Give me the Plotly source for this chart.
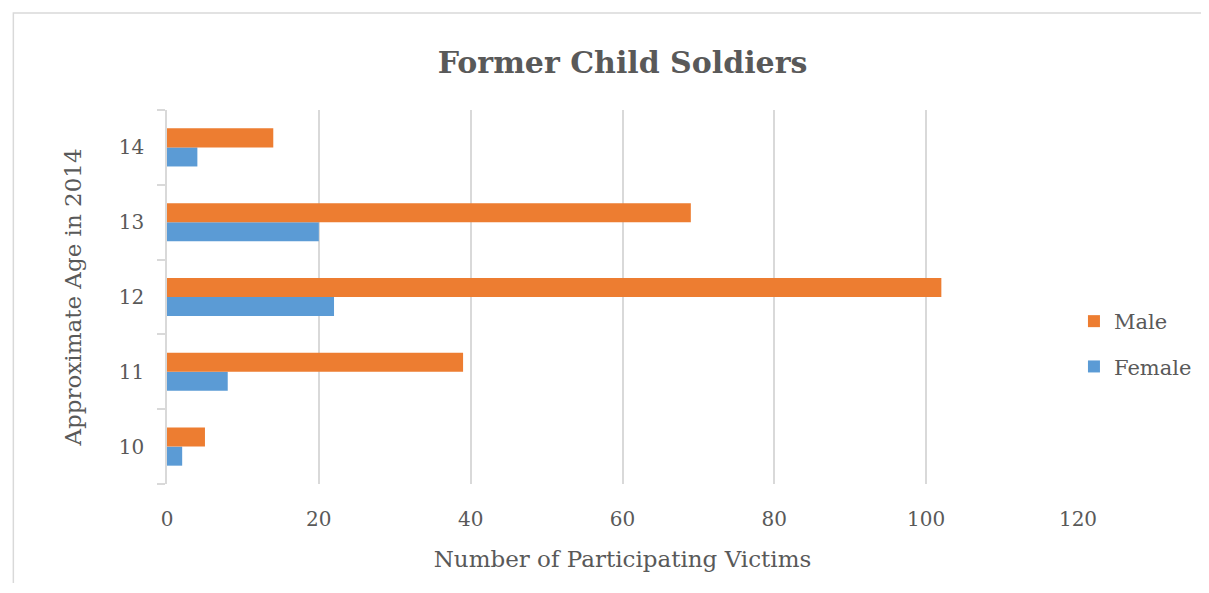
import plotly.graph_objects as go

ages = ["10", "11", "12", "13", "14"]
female = [2, 8, 22, 20, 4]
male = [5, 39, 102, 69, 14]

FONT = "DejaVu Serif"
GREY = "#595959"

# page body has an 8px margin; figure is sized so plot area lands where the reference has it
W, H = 1201, 575
L, R, T, B = 159, 123, 102, 99
PW, PH = W - L - R, H - T - B

def px_x(sx):  # screen x -> paper x
    return (sx - 8 - L) / PW

def px_y(sy):  # screen y -> paper y
    return (H - B - (sy - 8)) / PH

fig = go.Figure()
fig.add_trace(go.Bar(y=ages, x=female, name="Female", orientation="h", legendgroup="f",
                     legendrank=2, marker=dict(color="#5b9bd5", line=dict(width=0))))
fig.add_trace(go.Bar(y=ages, x=male, name="Male", orientation="h", legendgroup="m",
                     legendrank=1, marker=dict(color="#ed7d31", line=dict(width=0))))

fig.update_layout(
    width=W, height=H,
    margin=dict(l=L, r=R, t=T, b=B),
    paper_bgcolor="white", plot_bgcolor="white",
    barmode="group", bargap=0.49, bargroupgap=0,
    font=dict(family=FONT, color=GREY, size=20),
    title=dict(text="<b>Former Child Soldiers</b>", x=0.5, xanchor="center",
               xref="paper", y=1 - 54 / H, yanchor="middle",
               font=dict(family=FONT, size=30, color=GREY)),
    legend=dict(traceorder="grouped", x=px_x(1206), xanchor="right",
                y=px_y(344), yanchor="middle",
                font=dict(family=FONT, size=21, color=GREY), itemwidth=30,
                tracegroupgap=15, bgcolor="rgba(0,0,0,0)"),
    xaxis=dict(range=[0, 120], dtick=20, tick0=0, showgrid=True, gridcolor="#d9d9d9",
               gridwidth=1.5, zeroline=False, showline=False, ticks="",
               ticklabelstandoff=21,
               tickfont=dict(family=FONT, size=20, color=GREY),
               title=dict(text="Number of Participating Victims", standoff=20,
                          font=dict(family=FONT, size=23, color=GREY))),
    yaxis=dict(showgrid=False, zeroline=False, showline=True, linecolor="#d9d9d9",
               linewidth=1.5, ticks="outside", tickson="boundaries", ticklen=8,
               tickcolor="#d9d9d9", tickwidth=1.5, ticklabelstandoff=17,
               tickfont=dict(family=FONT, size=20, color=GREY),
               title=dict(text="Approximate Age in 2014", standoff=31,
                          font=dict(family=FONT, size=23, color=GREY))),
    shapes=[dict(type="rect", xref="paper", yref="paper",
                 x0=px_x(12), x1=px_x(1240), y0=px_y(610), y1=px_y(13),
                 line=dict(color="#d9d9d9", width=1.5), fillcolor="rgba(0,0,0,0)",
                 layer="below")],
)

fig.write_html("out.html")
